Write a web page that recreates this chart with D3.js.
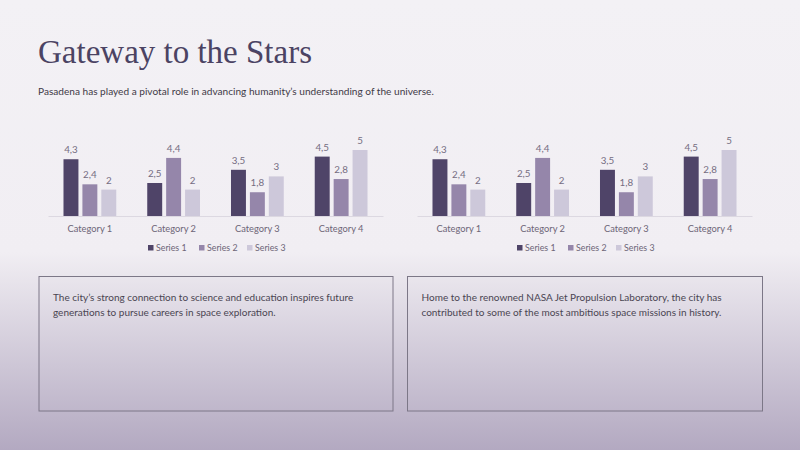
<!DOCTYPE html>
<html>
<head>
<meta charset="utf-8">
<script src="https://cdn.jsdelivr.net/npm/d3@7"></script>
<style>
  body { margin: 0; padding: 0; overflow: hidden; }
  svg { display: block; }
</style>
</head>
<body>
<div id="slide"></div>
<script>
// chart data
const categories = ["Category 1", "Category 2", "Category 3", "Category 4"];
const seriesNames = ["Series 1", "Series 2", "Series 3"];
const series1 = [4.3, 2.5, 3.5, 4.5];
const series2 = [2.4, 4.4, 1.8, 2.8];
const series3 = [2, 2, 3, 5];

const titleText = "Gateway to the Stars";
const subtitleText = "Pasadena has played a pivotal role in advancing humanity\u2019s understanding of the universe.";
const boxTexts = [
    ["The city\u2019s strong connection to science and education inspires future",
     "generations to pursue careers in space exploration."],
    ["Home to the renowned NASA Jet Propulsion Laboratory, the city has",
     "contributed to some of the most ambitious space missions in history."]
];

const svgWidth = 800;
const svgHeight = 450;
const colors = ["#4f4468", "#9586aa", "#cdc8da"];
const bodyFont = "Lato, 'Noto Sans', sans-serif";

const rows = categories.map((c, i) => ({
    category: c,
    values: [series1[i], series2[i], series3[i]]
}));

const svg = d3.select("#slide")
    .append("svg")
    .attr("width", svgWidth)
    .attr("height", svgHeight);

// background gradient
const defs = svg.append("defs");
const grad = defs.append("linearGradient")
    .attr("id", "bg")
    .attr("x1", 0).attr("y1", 0).attr("x2", 0).attr("y2", 1);
grad.append("stop").attr("offset", "0%").attr("stop-color", "#f3f1f5");
grad.append("stop").attr("offset", "56%").attr("stop-color", "#f1eef3");
grad.append("stop").attr("offset", "100%").attr("stop-color", "#b3a9c1");

svg.append("rect")
    .attr("width", svgWidth)
    .attr("height", svgHeight)
    .attr("fill", "url(#bg)");

// title + subtitle
svg.append("text")
    .attr("x", 38)
    .attr("y", 63)
    .attr("font-family", "'Liberation Serif', serif")
    .attr("font-size", 33)
    .attr("fill", "#4b4363")
    .text(titleText);

svg.append("text")
    .attr("x", 38)
    .attr("y", 95)
    .attr("font-family", bodyFont)
    .attr("font-size", 10.1)
    .attr("fill", "#3f3a47")
    .text(subtitleText);

// draws one clustered column chart
function drawChart(left, right) {
    const baseY = 216;
    const unit = 13.2;

    const x0 = d3.scaleBand()
        .domain(categories)
        .range([left, right])
        .paddingInner(0.37)
        .paddingOuter(0.185);

    const x1 = d3.scaleBand()
        .domain(d3.range(seriesNames.length))
        .range([0, x0.bandwidth()])
        .paddingInner(0.21);

    const y = d3.scaleLinear()
        .domain([0, 6])
        .range([baseY, baseY - 6 * unit]);

    const g = svg.append("g");

    // category axis
    const xAxis = g.append("g")
        .attr("transform", `translate(0, ${baseY})`)
        .call(d3.axisBottom(x0).tickSize(0).tickPadding(9));
    xAxis.select(".domain").attr("stroke", "#dcd8e1");
    xAxis.selectAll("text")
        .attr("font-family", bodyFont)
        .attr("font-size", 9.3)
        .attr("fill", "#6d6577");

    const groups = g.selectAll(".cat")
        .data(rows)
        .enter()
        .append("g")
        .attr("transform", d => `translate(${x0(d.category)}, 0)`);

    groups.selectAll("rect")
        .data(d => d.values)
        .enter()
        .append("rect")
        .attr("x", (d, i) => x1(i))
        .attr("y", d => y(d))
        .attr("width", x1.bandwidth())
        .attr("height", d => baseY - y(d))
        .attr("fill", (d, i) => colors[i]);

    groups.selectAll(".lbl")
        .data(d => d.values)
        .enter()
        .append("text")
        .attr("x", (d, i) => x1(i) + x1.bandwidth() / 2)
        .attr("y", d => y(d) - 6)
        .attr("text-anchor", "middle")
        .attr("font-family", bodyFont)
        .attr("font-size", 9.8)
        .attr("fill", "#756d82")
        .text(d => String(d).replace(".", ","));

    // legend
    const legendX = [148, 199, 247];
    const center = (left + right) / 2;
    const offset = center - 215.5;
    const legend = g.selectAll(".leg")
        .data(seriesNames)
        .enter()
        .append("g")
        .attr("transform", (d, i) => `translate(${legendX[i] + offset}, 248)`);
    legend.append("rect")
        .attr("x", 0).attr("y", -3)
        .attr("width", 5.5).attr("height", 5.5)
        .attr("fill", (d, i) => colors[i]);
    legend.append("text")
        .attr("x", 8)
        .attr("y", 3.3)
        .attr("font-family", bodyFont)
        .attr("font-size", 8.8)
        .attr("fill", "#6d6577")
        .text(d => d);
}

drawChart(48, 383);
drawChart(417, 752);

// text boxes
const boxes = [{x: 39, w: 354}, {x: 407.5, w: 355}];
boxes.forEach((b, i) => {
    svg.append("rect")
        .attr("x", b.x)
        .attr("y", 276.5)
        .attr("width", b.w)
        .attr("height", 134.5)
        .attr("fill", "none")
        .attr("stroke", "#7c7787")
        .attr("stroke-width", 1);
    boxTexts[i].forEach((line, j) => {
        svg.append("text")
            .attr("x", b.x + 14)
            .attr("y", 301 + j * 15)
            .attr("font-family", bodyFont)
            .attr("font-size", 10)
            .attr("fill", "#4a4552")
            .text(line);
    });
});
</script>
</body>
</html>
